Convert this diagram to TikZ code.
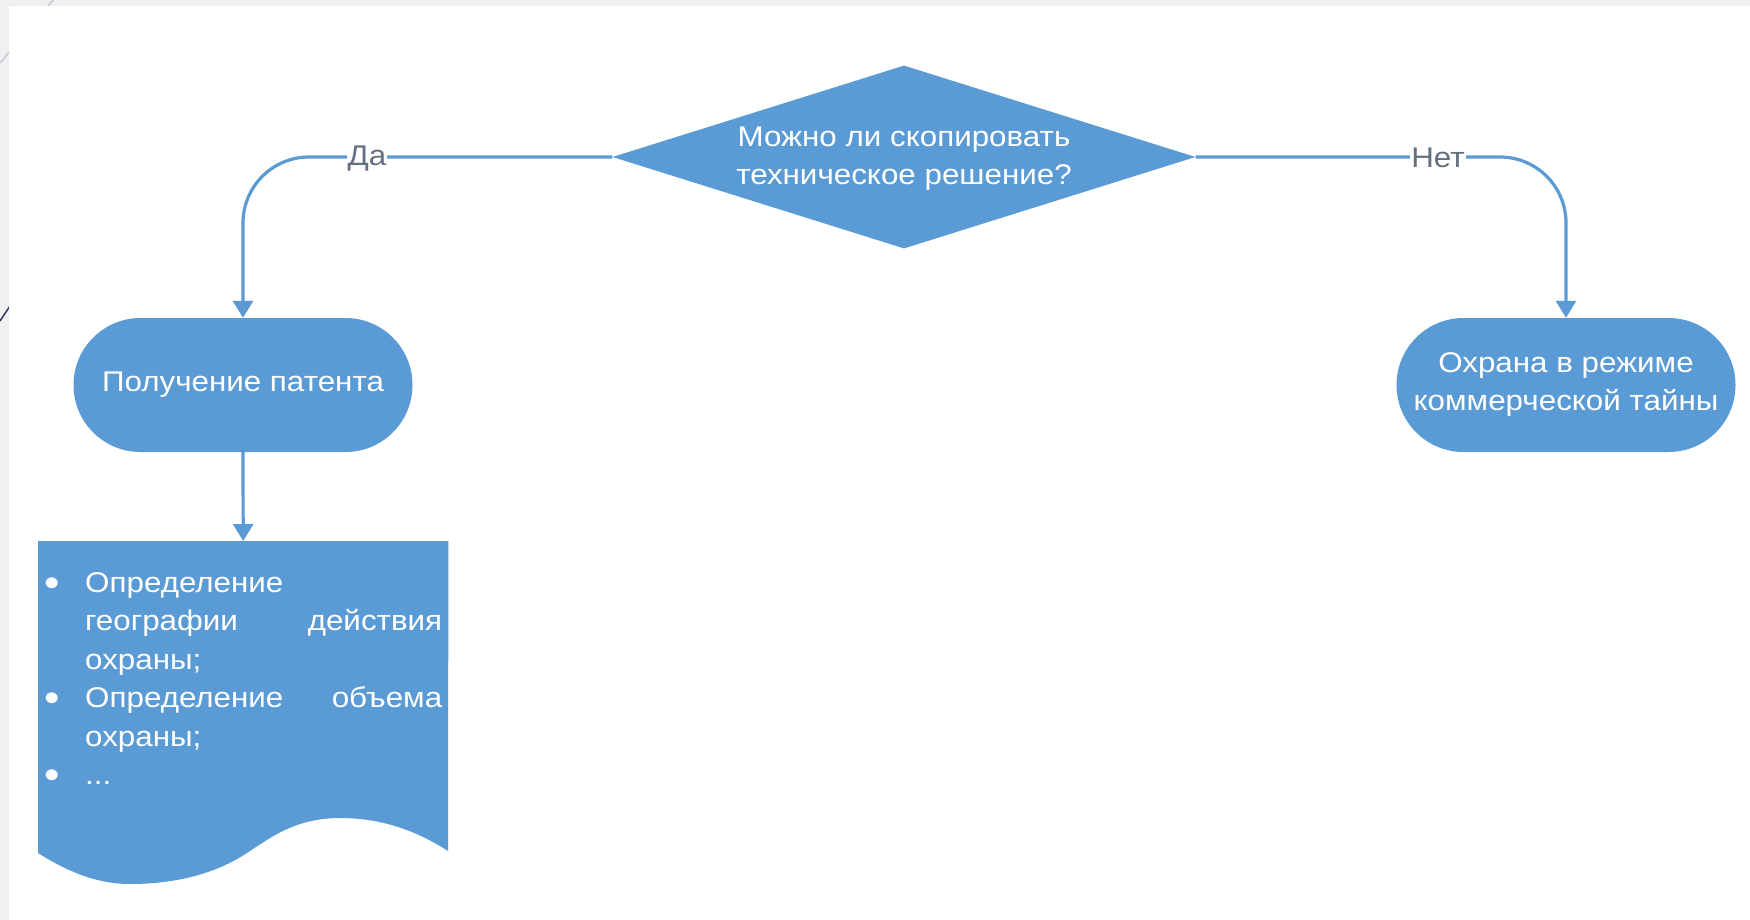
\documentclass[tikz,border=0pt]{standalone}
\usepackage{fontspec}
\setmainfont{Liberation Sans}[FakeStretch=1.1]
\usetikzlibrary{arrows.meta,shapes.geometric}
\definecolor{shapeblue}{RGB}{91,155,213}
\definecolor{lblgray}{RGB}{98,112,130}
\definecolor{framegray}{RGB}{240,240,240}
\definecolor{decoline}{RGB}{200,200,215}
\definecolor{navyline}{RGB}{46,49,96}
\begin{document}
\begin{tikzpicture}[x=1pt,y=-1pt,
  conn/.style={draw=shapeblue, line width=3.2pt, -{Triangle[width=20pt,length=17pt]}},
  flowtext/.style={text=white, font=\fontsize{28.5pt}{38pt}\selectfont, align=center},
  terminal/.style={fill=shapeblue, rounded corners=67pt, minimum width=339pt, minimum height=134pt, inner sep=0pt, flowtext},
  decision/.style={diamond, fill=shapeblue, minimum width=583pt, minimum height=183pt, inner sep=0pt},
  lbl/.style={fill=white, text=lblgray, inner xsep=1pt, inner ysep=0pt, font=\fontsize{28.5pt}{34pt}\selectfont},
  doctext/.style={text=white, font=\fontsize{28.5pt}{34pt}\selectfont, inner sep=0pt, anchor=base west},
  bulletmark/.style={text=white, font=\fontsize{40pt}{40pt}\selectfont, inner sep=0pt, anchor=base},
]
\useasboundingbox (0,0) rectangle (1750,920);
% slide frame
\fill[framegray] (0,0) rectangle (1750,920);
\draw[decoline, line width=1.5pt] (53,0) -- (0,63);
\draw[navyline, line width=1.5pt] (0,321) -- (14,300);
\fill[white] (9,6) rectangle (1750,920);

% nodes
\node[decision] (dia) at (904,157) {};
\node[flowtext] (diatext) at (904,159) {Можно ли скопировать\\техническое решение?};
\node[terminal] (patent) at (243,385) {Получение патента};
\node[terminal] (secret) at (1566,385) {Охрана в режиме\\коммерческой тайны};
\node[inner sep=0pt, minimum width=410pt, minimum height=312pt, anchor=north west] (doc) at (38,541) {};
\fill[shapeblue] (doc.north west) -- (doc.north east) -- (448,851)
  .. controls (420,833) and (385,818) .. (340,818)
  .. controls (295,818) and (270,838) .. (247,853)
  .. controls (215,874) and (175,884) .. (130,884)
  .. controls (95,884) and (65,870) .. (38,853) -- cycle;

% connectors
\draw[conn, rounded corners=66pt] (dia.west) -| (patent.north);
\draw[conn, rounded corners=66pt] (dia.east) -| (secret.north);
\draw[conn] (patent.south) -- (doc.north);
\node[lbl] (da) at (367,159) {Да};
\node[lbl] (net) at (1438,158) {Нет};

% document text
\node[bulletmark] (b1) at (52,596) {•};
\node[doctext] (l1) at (85,592) {Определение};
\node[doctext] (l2) at (85,630.5) {\hbox to 357pt{географии\hfill действия}};
\node[doctext] (l3) at (85,669) {охраны;};
\node[bulletmark] (b2) at (52,711.5) {•};
\node[doctext] (l4) at (85,707.5) {\hbox to 357pt{Определение\hfill объема}};
\node[doctext] (l5) at (85,746) {охраны;};
\node[bulletmark] (b3) at (52,788.5) {•};
\node[doctext] (l6) at (85,784.5) {...};
\end{tikzpicture}
\end{document}
